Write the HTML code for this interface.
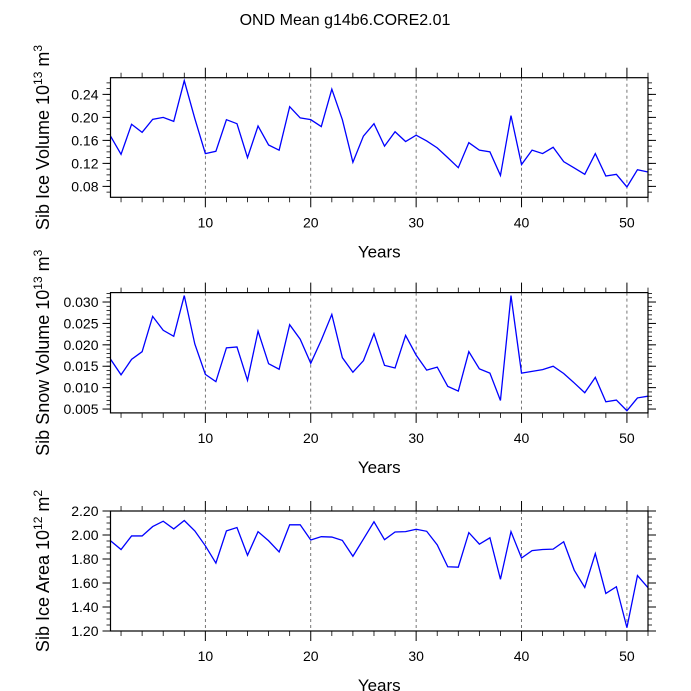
<!DOCTYPE html>
<html><head><meta charset="utf-8"><style>
html,body{margin:0;padding:0;background:#fff;}
svg{display:block;font-family:"Liberation Sans",Arial,sans-serif;}
</style></head><body>
<svg id="chart" width="691" height="691" viewBox="0 0 691 691" xmlns="http://www.w3.org/2000/svg">
<text x="345" y="25" font-size="16" text-anchor="middle">OND Mean g14b6.CORE2.01</text>
</svg>
<script>
const years = Array.from({length:52},(_,i)=>i+1);
const iceVolume = [0.1675,0.1357,0.188,0.174,0.1965,0.200,0.193,0.2638,0.198,0.137,0.141,0.196,0.189,0.130,0.185,0.152,0.143,0.2186,0.199,0.196,0.184,0.249,0.196,0.122,0.1675,0.189,0.150,0.175,0.158,0.169,0.159,0.147,0.130,0.1125,0.156,0.143,0.140,0.099,0.203,0.118,0.143,0.137,0.148,0.123,0.112,0.101,0.137,0.098,0.101,0.079,0.109,0.105];
const snowVolume = [0.01665,0.0130,0.0166,0.0184,0.02665,0.0234,0.0220,0.0315,0.0202,0.0131,0.0114,0.0193,0.0195,0.0117,0.0232,0.0156,0.0143,0.0247,0.0213,0.0157,0.0211,0.0271,0.0170,0.0136,0.0163,0.0226,0.0152,0.0146,0.0222,0.0176,0.0141,0.0148,0.0103,0.0092,0.0184,0.0144,0.0134,0.0070,0.0315,0.0134,0.0138,0.0142,0.0150,0.0133,0.0111,0.0088,0.0124,0.0067,0.0071,0.0046,0.0076,0.0080];
const iceArea = [1.952,1.879,1.992,1.992,2.070,2.115,2.051,2.121,2.034,1.910,1.766,2.034,2.062,1.831,2.028,1.952,1.859,2.085,2.085,1.958,1.986,1.983,1.955,1.823,1.966,2.110,1.961,2.025,2.028,2.048,2.031,1.918,1.735,1.732,2.020,1.924,1.977,1.631,2.028,1.808,1.870,1.879,1.882,1.944,1.707,1.563,1.845,1.513,1.569,1.228,1.662,1.561];
const xTicks = [10,20,30,40,50];
const ticks1 = [0.08,0.12,0.16,0.20,0.24];
const labels1 = ["0.08","0.12","0.16","0.20","0.24"];
const ticks2 = [0.005,0.010,0.015,0.020,0.025,0.030];
const labels2 = ["0.005","0.010","0.015","0.020","0.025","0.030"];
const ticks3 = [1.2,1.4,1.6,1.8,2.0,2.2];
const labels3 = ["1.20","1.40","1.60","1.80","2.00","2.20"];

const NS="http://www.w3.org/2000/svg";
const svg=document.getElementById('chart');
function mk(tag,attrs,parent){const e=document.createElementNS(NS,tag);for(const k in attrs)e.setAttribute(k,attrs[k]);(parent||svg).appendChild(e);return e;}
const L=110.5,R=648;
const xs=v=>L+(v-1)/51*(R-L);

function panel(key,top,bot,ymin,ymax,data,ticks,labels,minorStep,titleMain,sup,unit){
  const g=mk('g',{});
  
  
  const ys=v=>bot-(v-ymin)/(ymax-ymin)*(bot-top);
  xTicks.forEach(t=>{const l=mk('line',{x1:xs(t),x2:xs(t),y1:top,y2:bot,stroke:'#555','stroke-width':0.8,'stroke-dasharray':'3,3'},g);
    });
  for(let yv=2;yv<=52;yv+=2){ if(yv%10===0) continue;
    mk('line',{x1:xs(yv),x2:xs(yv),y1:bot,y2:bot+5,stroke:'#000','stroke-width':0.8},g);
    mk('line',{x1:xs(yv),x2:xs(yv),y1:top,y2:top-5,stroke:'#000','stroke-width':0.8},g);}
  xTicks.forEach(t=>{
    mk('line',{x1:xs(t),x2:xs(t),y1:bot,y2:bot+10,stroke:'#000','stroke-width':1},g);
    mk('line',{x1:xs(t),x2:xs(t),y1:top,y2:top-10,stroke:'#000','stroke-width':1},g);
    const tx=mk('text',{x:xs(t),y:bot+30,'font-size':14,'text-anchor':'middle'},g);tx.textContent=t;
    
  });
  for(let v=Math.ceil(ymin/minorStep)*minorStep; v<=ymax+1e-9; v+=minorStep){
    const y=ys(v);
    mk('line',{x1:L,x2:L-4,y1:y,y2:y,stroke:'#000','stroke-width':0.8},g);
    mk('line',{x1:R,x2:R+4,y1:y,y2:y,stroke:'#000','stroke-width':0.8},g);
  }
  ticks.forEach((t,i)=>{const y=ys(t);
    mk('line',{x1:L,x2:L-8,y1:y,y2:y,stroke:'#000','stroke-width':1},g);
    mk('line',{x1:R,x2:R+8,y1:y,y2:y,stroke:'#000','stroke-width':1},g);
    const tx=mk('text',{x:L-12,y:y+5,'font-size':14,'text-anchor':'end'},g);tx.textContent=labels[i];
    
  });
  const pts=data.map((v,i)=>xs(years[i]).toFixed(2)+','+ys(v).toFixed(2)).join(' ');
  const pl=mk('polyline',{points:pts,fill:'none',stroke:'#0000ff','stroke-width':1.3},g);
  
  const fr=mk('rect',{x:L,y:top,width:R-L,height:bot-top,fill:'none',stroke:'#000','stroke-width':1.2},g);
  
  const xt=mk('text',{x:(L+R)/2,y:bot+60,'font-size':17,'text-anchor':'middle'},g);xt.textContent='Years';
  
  const cy=(top+bot)/2;
  const yt=mk('text',{x:0,y:0,'font-size':18,'text-anchor':'middle',transform:`translate(49,${cy}) rotate(-90)`},g);
  
  const t1=mk('tspan',{},yt);t1.textContent=titleMain+' 10';
  const t2=mk('tspan',{dy:-7,'font-size':12},yt);t2.textContent=sup;
  const t3=mk('tspan',{dy:7},yt);t3.textContent=' m';
  const t4=mk('tspan',{dy:-7,'font-size':12},yt);t4.textContent=unit;
}
panel('ice-volume',77.7,197.3,0.061,0.269,iceVolume,ticks1,labels1,0.01,'Sib Ice Volume','13','3');
panel('snow-volume',292.6,412.9,0.0041,0.0322,snowVolume,ticks2,labels2,0.001,'Sib Snow Volume','13','3');
panel('ice-area',511,631,1.2,2.2,iceArea,ticks3,labels3,0.05,'Sib Ice Area','12','2');
</script>
</body></html>
